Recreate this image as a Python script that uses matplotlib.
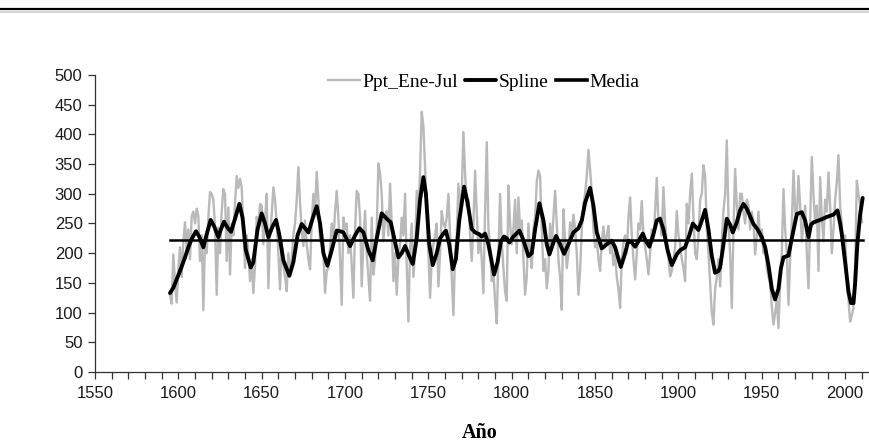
import matplotlib
matplotlib.use("Agg")
import matplotlib.pyplot as plt
from matplotlib.lines import Line2D
from matplotlib.ticker import MultipleLocator
import numpy as np

# ---------------- data ----------------
first_year = 1595
ppt_values = [
    # 1595-1599
    130, 115, 198, 150, 117,
    # 1600s
    175, 210, 160, 220, 252, 204, 240, 190, 262, 270,
    # 1610s
    250, 275, 262, 187, 230, 104, 226, 200, 260, 303,
    # 1620s
    300, 290, 245, 130, 243, 200, 270, 308, 300, 187,
    # 1630s
    277, 164, 250, 230, 285, 330, 310, 325, 311, 240,
    # 1640s
    175, 230, 200, 153, 190, 133, 180, 261, 240, 283,
    # 1650s
    280, 215, 255, 300, 141, 230, 265, 311, 290, 250,
    # 1660s
    200, 139, 221, 180, 160, 136, 200, 172, 190, 232,
    # 1670s
    250, 290, 345, 285, 240, 212, 255, 215, 190, 173,
    # 1680s
    250, 300, 270, 337, 290, 220, 240, 200, 133, 170,
    # 1690s
    175, 210, 250, 220, 270, 305, 260, 190, 113, 260,
    # 1700s
    240, 250, 200, 230, 180, 125, 240, 305, 300, 260,
    # 1710s
    144, 220, 271, 200, 160, 120, 260, 164, 190, 240,
    # 1720s
    351, 334, 300, 220, 260, 271, 230, 317, 250, 153,
    # 1730s
    200, 130, 190, 215, 260, 230, 300, 180, 85, 210,
    # 1740s
    250, 160, 200, 305, 260, 340, 438, 413, 345, 270,
    # 1750s
    200, 125, 190, 215, 230, 250, 144, 200, 271, 250,
    # 1760s
    243, 260, 300, 230, 160, 96, 200, 230, 317, 280,
    # 1770s
    300, 404, 334, 280, 290, 230, 187, 250, 339, 270,
    # 1780s
    200, 230, 190, 133, 270, 387, 243, 210, 153, 170,
    # 1790s
    120, 82, 200, 300, 220, 175, 135, 120, 314, 250,
    # 1800s
    215, 240, 290, 200, 294, 240, 255, 190, 130, 160,
    # 1810s
    250, 200, 175, 240, 260, 320, 339, 330, 240, 170,
    # 1820s
    190, 141, 170, 250, 210, 260, 305, 250, 190, 160,
    # 1830s
    105, 274, 220, 175, 200, 252, 230, 265, 240, 200,
    # 1840s
    130, 170, 240, 283, 300, 330, 374, 340, 303, 240,
    # 1850s
    210, 225, 190, 170, 220, 245, 210, 230, 246, 200,
    # 1860s
    215, 180, 200, 160, 140, 108, 190, 220, 230, 200,
    # 1870s
    260, 294, 230, 190, 156, 200, 250, 240, 288, 230,
    # 1880s
    210, 190, 164, 200, 240, 220, 270, 327, 255, 260,
    # 1890s
    230, 311, 250, 215, 190, 161, 170, 190, 210, 271,
    # 1900s
    230, 215, 190, 175, 153, 283, 250, 300, 334, 260,
    # 1910s
    200, 190, 230, 290, 300, 348, 330, 243, 200, 150,
    # 1920s
    100, 80, 140, 160, 190, 144, 220, 271, 300, 390,
    # 1930s
    260, 198, 108, 240, 342, 280, 240, 300, 300, 270,
    # 1940s
    250, 290, 280, 240, 270, 250, 198, 230, 270, 220,
    # 1950s
    240, 200, 210, 175, 160, 150, 110, 80, 100, 120,
    # 1960s
    74, 150, 200, 308, 240, 200, 113, 190, 250, 339,
    # 1970s
    270, 260, 330, 280, 220, 250, 280, 200, 141, 250,
    # 1980s
    362, 300, 250, 280, 170, 328, 260, 220, 290, 270,
    # 1990s
    336, 280, 200, 240, 290, 320, 365, 280, 250, 198,
    # 2000-2010
    230, 160, 120, 85, 95, 108, 180, 322, 300, 280, 252,
]
ppt_years = list(range(first_year, first_year + len(ppt_values)))

spline_years = [
    1595, 1597, 1599, 1601, 1604, 1606, 1608, 1610.6, 1612.5, 1615, 1617, 1619.4,
    1621.5, 1624, 1625.5, 1627.4, 1629.5, 1631.6, 1634, 1636.6, 1638.5, 1640.5,
    1643.4, 1645, 1647.5, 1650, 1652, 1654, 1656.5, 1658.6, 1660.5, 1663, 1666.6,
    1669, 1671.5, 1674, 1676, 1678, 1680.5, 1683, 1685, 1687, 1689.4, 1692, 1695,
    1697, 1699, 1703, 1706, 1708.6, 1711, 1714, 1716.6, 1719, 1722, 1725, 1727.4,
    1729.5, 1732, 1734, 1736, 1738.5, 1740.6, 1743, 1745, 1747, 1748.5, 1750.5,
    1752.6, 1755, 1757, 1759, 1760.5, 1762.5, 1764.6, 1766.5, 1768.5, 1771.4,
    1773.5, 1776, 1778, 1780.5, 1782, 1784, 1786, 1789.4, 1791.5, 1793.5, 1795.4,
    1797, 1798.6, 1801, 1804.6, 1807, 1810, 1812, 1814, 1816.6, 1819, 1821,
    1822.6, 1825, 1826.6, 1829, 1831.4, 1834, 1837, 1840, 1842, 1844, 1847, 1849,
    1851, 1854, 1857, 1860, 1862, 1865.4, 1867.5, 1870, 1872, 1874, 1876, 1878.6,
    1880.5, 1882.6, 1885, 1887, 1889, 1891, 1893.5, 1896, 1899, 1901, 1904,
    1906.5, 1908.6, 1910.5, 1912, 1914, 1916, 1918, 1920, 1922, 1924, 1925, 1927,
    1929, 1931, 1932.6, 1935, 1937, 1939, 1941, 1943, 1945, 1947.5, 1950, 1952,
    1954, 1956, 1958, 1960, 1961.5, 1963, 1966, 1968, 1971, 1974, 1976, 1978,
    1979.5, 1981, 1985, 1989, 1993, 1995.4, 1997, 1998, 2000, 2002, 2003.5, 2005,
    2006, 2007.3, 2009, 2010.5,
]
spline_values = [
    133, 142, 156, 170, 193, 210, 224, 237, 228, 210, 232, 256,
    245, 227, 240, 253, 243, 236, 258, 283, 260, 205,
    176, 185, 240, 267, 250, 227, 245, 256, 232, 188, 162,
    185, 230, 249, 242, 235, 258, 279, 250, 200, 179, 205, 238,
    237, 235, 212, 230, 242, 235, 205, 188, 225, 267, 258, 252,
    225, 193, 200, 212, 195, 182, 225, 290, 328, 300, 215,
    180, 200, 225, 233, 238, 215, 173, 190, 255, 312,
    285, 241, 235, 232, 228, 233, 215, 164, 185, 220, 228,
    225, 218, 228, 238, 222, 195, 200, 240, 284, 255, 215,
    198, 218, 229, 215, 199, 215, 235, 242, 255, 285, 310, 280,
    235, 208, 215, 221, 210, 177, 195, 221, 218, 211, 220, 233,
    220, 211, 232, 255, 258, 240, 205, 180, 198, 205, 210,
    230, 250, 244, 239, 255, 273, 240, 195, 167, 170, 176, 215,
    258, 248, 235, 252, 272, 283, 275, 262, 249, 240, 227, 210,
    180, 140, 122, 140, 175, 193, 196, 225, 266, 269, 255, 227,
    248, 252, 256, 261, 265, 272, 250, 232, 185, 135, 116, 116,
    150, 215, 265, 293,
]
media_value = 222

y_ticks = list(range(0, 501, 50))
x_label_years = list(range(1550, 2001, 50))

# ---------------- figure ----------------
W, H = 869, 446
fig = plt.figure(figsize=(W / 100, H / 100), dpi=100)
ax = fig.add_axes([95 / W, (H - 372) / H, 1 - 95 / W, (372 - 75) / H])

ax.plot(ppt_years, ppt_values, color="#b9b9b9", lw=1.7, label="Ppt_Ene-Jul",
        solid_joinstyle="round", zorder=1)
ax.plot(spline_years, spline_values, color="black", lw=2.8, label="Spline",
        solid_joinstyle="round", solid_capstyle="round", zorder=3)
ax.plot([ppt_years[0], spline_years[-1]], [media_value, media_value],
        color="black", lw=1.8, label="Media", zorder=2)

ax.set_xlim(1550, 1550 + (W - 95) / 1.667)
ax.set_ylim(0, 500)
ax.set_yticks(y_ticks)
ax.set_xticks(x_label_years)
ax.xaxis.set_minor_locator(MultipleLocator(10))

for s in ("top", "right"):
    ax.spines[s].set_visible(False)
for s in ("left", "bottom"):
    ax.spines[s].set_color("#333333")
    ax.spines[s].set_linewidth(0.9)

tick_family = ["Liberation Sans", "DejaVu Sans"]
ax.tick_params(axis="both", which="both", direction="out", color="#333333",
               width=0.9, labelcolor="#1a1a1a")
ax.tick_params(axis="y", length=5, pad=4)
ax.tick_params(axis="x", which="both", length=5, pad=5)
for lab in ax.get_xticklabels() + ax.get_yticklabels():
    lab.set_fontfamily(tick_family)
    lab.set_fontsize(12)

serif = ["Liberation Serif", "DejaVu Serif"]
leg = ax.legend(loc="center", bbox_to_anchor=((484 - 95) / (W - 95), (372 - 82) / 297),
                ncol=3, frameon=False, handlelength=1.6, handletextpad=0.15,
                columnspacing=0.35, borderpad=0.0,
                prop=dict(family=serif, size=14))
leg.get_lines()[2].set_linewidth(2.6)

fig.text(480 / W, 1 - 433 / H, "Año", ha="center", va="center",
         family=serif, fontweight="bold", fontsize=14.5)

# top rule of the page
fig.add_artist(Line2D([0.0, 1.0], [1 - 9 / H, 1 - 9 / H], transform=fig.transFigure,
                      color="black", lw=1.6))
fig.add_artist(Line2D([0.0, 1.0], [1 - 11.5 / H, 1 - 11.5 / H], transform=fig.transFigure,
                      color="#cfcfcf", lw=1.2))

fig.savefig("out.png", dpi=100)
